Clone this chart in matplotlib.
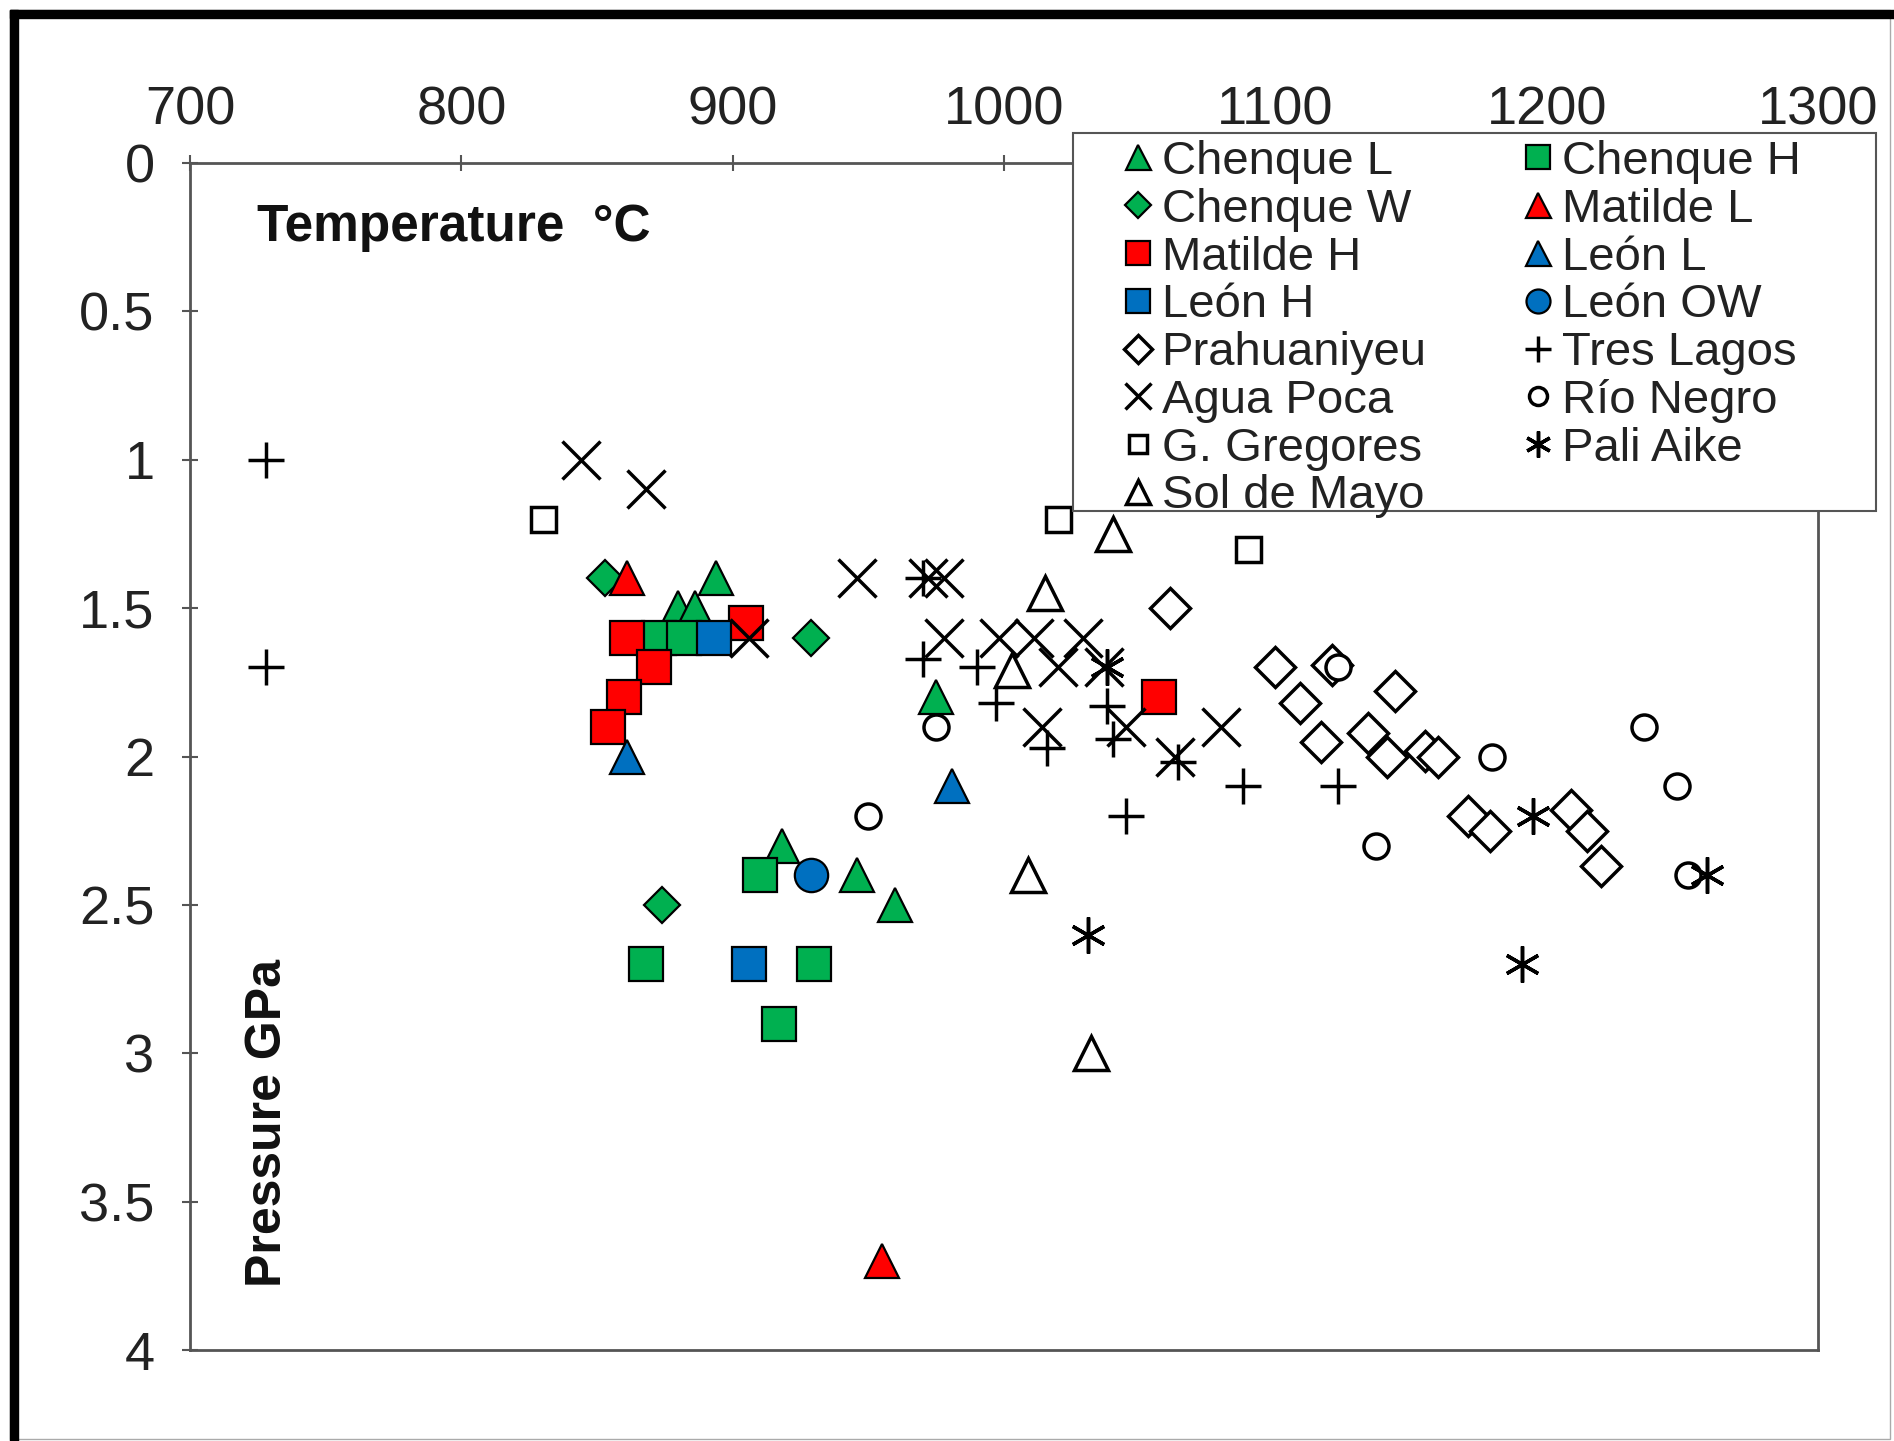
import matplotlib.pyplot as plt
from matplotlib.patches import Rectangle

plt.rcParams['font.family'] = ['Liberation Sans', 'DejaVu Sans']

# data: temperature (°C), pressure (GPa)
chenque_l_t = [880, 886, 894, 975, 918, 946, 960]
chenque_l_p = [1.5, 1.5, 1.4, 1.8, 2.3, 2.4, 2.5]
chenque_h_t = [873, 882, 910, 868, 930, 917]
chenque_h_p = [1.6, 1.6, 2.4, 2.7, 2.7, 2.9]
chenque_w_t = [853, 929, 874]
chenque_w_p = [1.4, 1.6, 2.5]
matilde_l_t = [861, 955]
matilde_l_p = [1.4, 3.7]
matilde_h_t = [861, 871, 860, 854, 905, 1057]
matilde_h_p = [1.6, 1.7, 1.8, 1.9, 1.55, 1.8]
leon_l_t = [861, 981]
leon_l_p = [2.0, 2.1]
leon_h_t = [893, 906]
leon_h_p = [1.6, 2.7]
leon_ow_t = [929]
leon_ow_p = [2.4]
prahuaniyeu_t = [1061, 1100, 1121, 1109, 1144, 1117, 1134, 1141, 1155, 1160,
                 1171, 1179, 1209, 1215, 1220]
prahuaniyeu_p = [1.5, 1.7, 1.69, 1.82, 1.78, 1.95, 1.92, 2.0, 1.98, 2.0,
                 2.2, 2.25, 2.18, 2.25, 2.37]
tres_lagos_t = [728, 728, 970, 970, 990, 997, 1016, 1038, 1040, 1045, 1064, 1088, 1123]
tres_lagos_p = [1.0, 1.7, 1.4, 1.67, 1.7, 1.82, 1.97, 1.83, 1.94, 2.2, 2.02, 2.1, 2.1]
agua_poca_t = [844, 868, 906, 946, 972, 978, 978, 998, 1011, 1029, 1020, 1037,
               1014, 1045, 1063, 1080]
agua_poca_p = [1.0, 1.1, 1.6, 1.4, 1.4, 1.4, 1.6, 1.6, 1.6, 1.6, 1.7, 1.7,
               1.9, 1.9, 2.0, 1.9]
rio_negro_t = [975, 950, 1123, 1137, 1180, 1236, 1248, 1252]
rio_negro_p = [1.9, 2.2, 1.7, 2.3, 2.0, 1.9, 2.1, 2.4]
gregores_t = [830, 1020, 1090]
gregores_p = [1.2, 1.2, 1.3]
pali_aike_t = [1038, 1031, 1191, 1195, 1259]
pali_aike_p = [1.7, 2.6, 2.7, 2.2, 2.4]
sol_mayo_t = [1040, 1015, 1003, 1009, 1032]
sol_mayo_p = [1.25, 1.45, 1.71, 2.4, 3.0]

green = '#00B050'
red = '#FF0000'
blue = '#0070C0'

W, H = 1894, 1441
fig = plt.figure(figsize=(W / 100, H / 100), dpi=100)
ax = fig.add_axes([190 / W, 1 - 1350 / H, (1818 - 190) / W, (1350 - 163) / H])

filled = dict(linestyle='none', markeredgecolor='black', markeredgewidth=1.6)
hollow = dict(linestyle='none', markeredgecolor='black', markerfacecolor='white',
              markeredgewidth=2.5)
lines = dict(linestyle='none', color='black', markeredgewidth=2.5)

h = {}
h['Chenque L'], = ax.plot(chenque_l_t, chenque_l_p, marker='^', markersize=25, color=green, **filled)
h['Chenque H'], = ax.plot(chenque_h_t, chenque_h_p, marker='s', markersize=24, color=green, **filled)
h['Chenque W'], = ax.plot(chenque_w_t, chenque_w_p, marker='D', markersize=18, color=green, **filled)
h['Matilde L'], = ax.plot(matilde_l_t, matilde_l_p, marker='^', markersize=25, color=red, **filled)
h['Matilde H'], = ax.plot(matilde_h_t, matilde_h_p, marker='s', markersize=24, color=red, **filled)
h['León L'], = ax.plot(leon_l_t, leon_l_p, marker='^', markersize=25, color=blue, **filled)
h['León H'], = ax.plot(leon_h_t, leon_h_p, marker='s', markersize=24, color=blue, **filled)
h['León OW'], = ax.plot(leon_ow_t, leon_ow_p, marker='o', markersize=24, color=blue, **filled)
h['Prahuaniyeu'], = ax.plot(prahuaniyeu_t, prahuaniyeu_p, marker='D', markersize=20, **hollow)
h['Tres Lagos'], = ax.plot(tres_lagos_t, tres_lagos_p, marker='+', markersize=26, **lines)
h['Agua Poca'], = ax.plot(agua_poca_t, agua_poca_p, marker='x', markersize=27, **lines)
h['Río Negro'], = ax.plot(rio_negro_t, rio_negro_p, marker='o', markersize=18, **hollow)
h['G. Gregores'], = ax.plot(gregores_t, gregores_p, marker='s', markersize=18, **hollow)
h['Pali Aike'], = ax.plot(pali_aike_t, pali_aike_p, marker=(6, 2, 0), markersize=26, **lines)
h['Sol de Mayo'], = ax.plot(sol_mayo_t, sol_mayo_p, marker='^', markersize=24, **hollow)

ax.set_xlim(700, 1300)
ax.set_ylim(4, 0)
ax.set_xticks([700, 800, 900, 1000, 1100, 1200, 1300])
ax.set_yticks([0, 0.5, 1, 1.5, 2, 2.5, 3, 3.5, 4])
ax.set_yticklabels(['0', '0.5', '1', '1.5', '2', '2.5', '3', '3.5', '4'])
ax.xaxis.tick_top()
ax.tick_params(direction='inout', length=11, width=1.5, color='#555555',
               labelsize=39, labelcolor='#222222')
ax.tick_params(axis='x', pad=14)
ax.tick_params(axis='y', pad=20)
for s in ax.spines.values():
    s.set_color('#555555')
    s.set_linewidth(2)

ax.text(0.041, 0.946, 'Temperature  °C', transform=ax.transAxes, ha='left', va='center',
        fontsize=37, fontweight='bold', color='#111111')
ax.text(0.048, 0.053, 'Pressure GPa', transform=ax.transAxes, ha='center', va='bottom',
        rotation=90, fontsize=36, fontweight='bold', color='#111111')

# legend, filled row by row like the original
col1 = ['Chenque L', 'Chenque W', 'Matilde H', 'León H', 'Prahuaniyeu', 'Agua Poca',
        'G. Gregores', 'Sol de Mayo']
col2 = ['Chenque H', 'Matilde L', 'León L', 'León OW', 'Tres Lagos', 'Río Negro', 'Pali Aike']
names = col1 + col2
fig.add_artist(Rectangle((1073 / W, 1 - 511 / H), (1876 - 1073) / W, (511 - 133) / H,
                         transform=fig.transFigure, facecolor='white', edgecolor='#555555',
                         linewidth=1.5, zorder=4))
leg = fig.legend([h[n] for n in names], names, ncol=2, loc='upper left',
                 bbox_to_anchor=(1119 / W, 1 - 140 / H), bbox_transform=fig.transFigure,
                 frameon=False, borderpad=0, numpoints=1, markerscale=0.72,
                 fontsize=34, labelspacing=0.08, handlelength=0.8, handletextpad=0.1,
                 columnspacing=1.97, borderaxespad=0)
leg.set_zorder(6)
for t in leg.get_texts():
    t.set_color('#222222')

# outer frame of the picture
fig.add_artist(Rectangle((10 / W, 0), 8 / W, 1 - 10 / H, transform=fig.transFigure,
                         color='black', zorder=7))
fig.add_artist(Rectangle((10 / W, 1 - 18 / H), 1 - 10 / W, 8 / H, transform=fig.transFigure,
                         color='black', zorder=7))
fig.add_artist(Rectangle((10 / W, 2 / H), 1880 / W, 1 - 12 / H, transform=fig.transFigure,
                         fill=False, edgecolor='#aaaaaa', linewidth=1, zorder=6))

fig.savefig('out.png', dpi=100)
